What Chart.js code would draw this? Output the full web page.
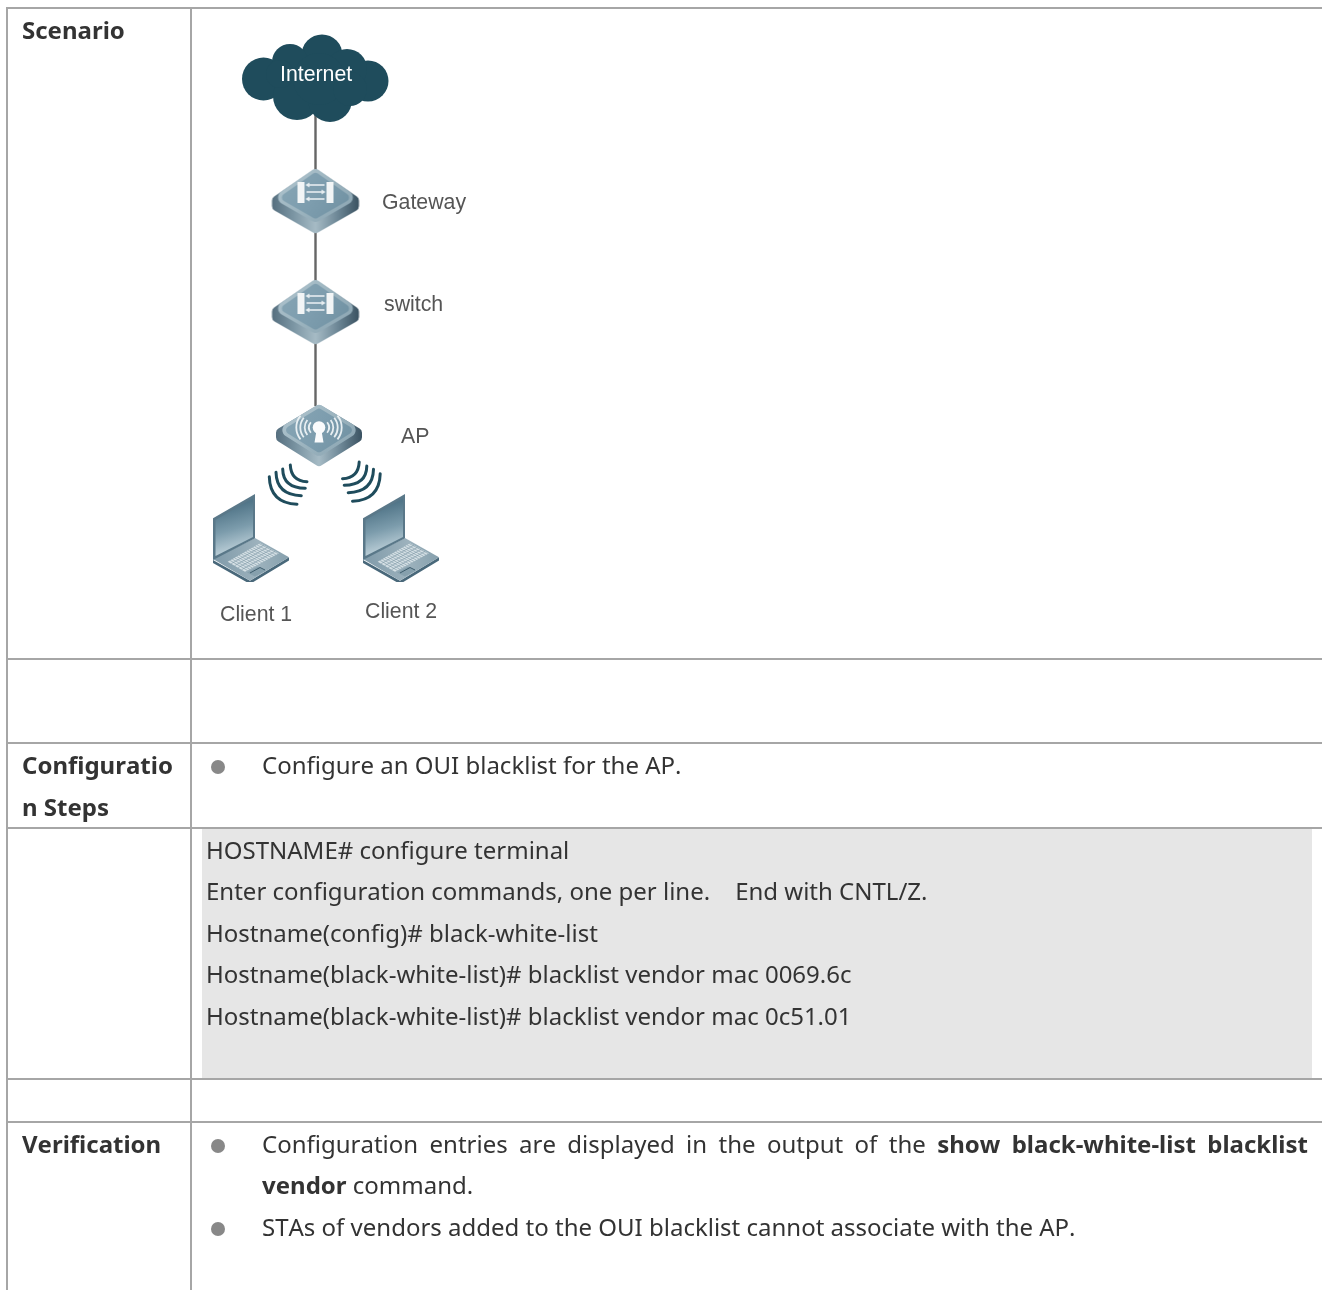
<!DOCTYPE html>
<html><head><meta charset="utf-8">
<style>html,body{margin:0;padding:0;background:#fff;overflow:hidden}canvas{display:block}</style>
<script src="https://cdn.jsdelivr.net/npm/chart.js@4"></script>
</head><body>
<canvas id="c" width="1322" height="1290" style="width:1322px;height:1290px"></canvas>
<script>
// ---- table structure
const rowEdges = [8, 659, 743, 828, 1079, 1122];
const columnEdges = [7, 191];
const codeBlockTop = [[202, 829], [1312, 829]];
const codeBlockBottom = 1078;
const bulletPoints = [[218, 767], [218, 1146], [218, 1229]];
// ---- topology
const nodeNames = ['Internet', 'Gateway', 'switch', 'AP', 'Client 1', 'Client 2'];
const linkColumn = 315.5;
const linkSpans = [[115, 170], [231, 281], [342, 406]];
const switchNodes = [[315.5, 200], [315.5, 311]];
const cloudNodes = [[315, 79]];
const apNodes = [[319, 436]];
const laptopNodes = [[250, 537], [400, 537]];
const radioNodes = [[323, 484]];
// ---- text
const rowHeadings = ['Scenario', 'Configuratio', 'n Steps', 'Verification'];
const stepLines = ['Configure an OUI blacklist for the AP.'];
const codeLines = ['HOSTNAME# configure terminal',
  'Enter configuration commands, one per line.    End with CNTL/Z.',
  'Hostname(config)# black-white-list',
  'Hostname(black-white-list)# blacklist vendor mac 0069.6c',
  'Hostname(black-white-list)# blacklist vendor mac 0c51.01'];
const verifyLead = 'Configuration entries are displayed in the output of the';
const verifyBold = 'show black-white-list blacklist';
const verifyBold2 = 'vendor';
const verifyTail = ' command.';
const verifyLast = 'STAs of vendors added to the OUI blacklist cannot associate with the AP.';

function mk(w, h, draw) {
  const c = document.createElement('canvas'); c.width = w; c.height = h;
  const g = c.getContext('2d'); g.filter = 'blur(0.5px)'; draw(g); return c;
}
function roundPoly(g, pts, r) {
  g.beginPath();
  const n = pts.length;
  const s = [(pts[n - 1][0] + pts[0][0]) / 2, (pts[n - 1][1] + pts[0][1]) / 2];
  g.moveTo(s[0], s[1]);
  for (let i = 0; i < n; i++) { const a = pts[i], b = pts[(i + 1) % n]; g.arcTo(a[0], a[1], b[0], b[1], r); }
  g.closePath();
}
function lin(g, x0, y0, x1, y1, stops) {
  const l = g.createLinearGradient(x0, y0, x1, y1);
  stops.forEach(s => l.addColorStop(s[0], s[1])); return l;
}
function drawBox(g, cx, topY, hw, midY, botFace, lift) {
  const L = cx - hw, R = cx + hw;
  g.fillStyle = lin(g, L, 0, R, 0, [[0, '#566f7f'], [0.25, '#7c96a4'], [0.5, '#a6bbc5'], [0.75, '#6e8897'], [1, '#3a5261']]);
  roundPoly(g, [[cx, topY], [R, midY], [R, midY + lift], [cx, botFace + lift], [L, midY + lift], [L, midY]], 5);
  g.fill();
  roundPoly(g, [[cx, topY], [R, midY], [cx, botFace], [L, midY]], 7);
  g.fillStyle = lin(g, cx - 25, topY, cx + 25, botFace, [[0, '#aec3cd'], [0.5, '#9cb4bf'], [1, '#8ca6b3']]);
  g.fill();
  const i = 4;
  roundPoly(g, [[cx, topY + i], [R - i * 1.6, midY], [cx, botFace - i], [L + i * 1.6, midY]], 4);
  g.fillStyle = lin(g, L, topY, R, botFace, [[0, '#8aa8b7'], [0.5, '#7d9dae'], [1, '#6c8d9e']]);
  g.fill();
}
const switchIcon = mk(100, 80, g => {
  const cx = 50;
  drawBox(g, cx, 8, 43.5, 38, 63, 11);
  g.fillStyle = '#f2f5f6';
  g.fillRect(cx - 18, 22, 7, 21); g.fillRect(cx + 11, 22, 7, 21);
  g.strokeStyle = '#e6edf0'; g.lineWidth = 1.6;
  [[25, -1], [32, 1], [39, -1]].forEach(a => {
    const y = a[0], d = a[1];
    g.beginPath(); g.moveTo(cx - 9, y); g.lineTo(cx + 9, y); g.stroke();
    g.beginPath(); g.moveTo(cx + d * 6, y - 2.5); g.lineTo(cx + d * 10, y); g.lineTo(cx + d * 6, y + 2.5); g.closePath();
    g.fillStyle = '#e6edf0'; g.fill();
  });
});
const apIcon = mk(100, 80, g => {
  const cx = 50;
  drawBox(g, cx, 8, 43, 34, 61, 10);
  g.strokeStyle = '#e8eff2'; g.lineWidth = 1.8;
  const ky = 31.5;
  [10, 14.3, 18.7, 22.7].forEach(r => {
    [Math.PI, 0].forEach(a => {
      g.beginPath(); g.ellipse(cx, ky, r, r * 0.9, 0, a - 0.62, a + 0.62); g.stroke();
    });
  });
  g.fillStyle = '#fafbfc';
  g.beginPath(); g.arc(cx, ky, 6.3, 0, 7); g.fill();
  g.beginPath(); g.moveTo(cx - 2.5, ky + 3); g.lineTo(cx + 2.5, ky + 3); g.lineTo(cx + 4.5, ky + 15); g.lineTo(cx - 4.5, ky + 15); g.closePath(); g.fill();
});
const cloudIcon = mk(160, 100, g => {
  // local origin = (235, 29) on the page
  g.fillStyle = '#1f4c5c';
  const blobs = [[28.5, 50, 21.5], [133, 52, 20.5], [87, 26, 20.5], [55, 33, 18], [112, 40, 20], [62, 67, 24], [95, 71, 22], [84, 50, 26], [115, 60, 17], [45, 45, 14]];
  blobs.forEach(b => { g.beginPath(); g.arc(b[0], b[1], b[2], 0, 7); g.fill(); });
});
const laptopIcon = mk(80, 90, g => {
  // local origin = (210, 492) on the page
  const P = a => a.forEach((p, i) => i ? g.lineTo(p[0], p[1]) : (g.beginPath(), g.moveTo(p[0], p[1])));
  P([[3, 68], [40, 88.7], [79, 65.3], [79, 68.5], [40, 92], [3, 71]]); g.closePath(); g.fillStyle = '#49687a'; g.fill();
  P([[3, 67], [45, 46], [79, 65.3], [40, 88.7]]); g.closePath();
  g.fillStyle = lin(g, 3, 0, 79, 0, [[0, '#7f9aa9'], [0.6, '#9db2bd'], [1, '#86a0ad']]); g.fill();
  P([[3, 26.3], [45, 2], [45, 46.3], [3, 68]]); g.closePath(); g.fillStyle = '#5a7889'; g.fill();
  P([[5.5, 28], [43, 6], [43, 45], [5.5, 64]]); g.closePath();
  g.fillStyle = lin(g, 18, 16, 30, 58, [[0, '#527689'], [0.5, '#7c9cac'], [1, '#bccfd8']]); g.fill();
  P([[17.7, 69.7], [50, 51.3], [69, 61.3], [35, 79.7]]); g.closePath(); g.fillStyle = '#d5e0e5'; g.fill();
  g.strokeStyle = 'rgba(120,148,162,.8)'; g.lineWidth = 0.7;
  for (let t = 0.2; t < 1; t += 0.2) {
    g.beginPath(); g.moveTo(17.7 + 17.3 * t, 69.7 + 10 * t); g.lineTo(50 + 19 * t, 51.3 + 10 * t); g.stroke();
  }
  for (let t = 0.07; t < 1; t += 0.07) {
    g.beginPath(); g.moveTo(17.7 + 32.3 * t, 69.7 - 18.4 * t); g.lineTo(35 + 34 * t, 79.7 - 18.4 * t); g.stroke();
  }
  P([[37, 80.5], [48, 74.5], [56, 78.5], [45, 84.5]]); g.closePath(); g.fillStyle = '#86a0ad'; g.fill();
  g.strokeStyle = '#3f5d6e'; g.lineWidth = 1; g.beginPath(); g.moveTo(40, 81); g.lineTo(50, 75.5); g.lineTo(55, 78); g.stroke();
});
const radioIcon = mk(130, 60, g => {
  // local origin = (258, 454) on the page
  g.strokeStyle = '#1f4c5c'; g.lineWidth = 3; g.lineCap = 'round';
  const groupL = [[32.3, 11, 33, 27, 49, 27.7], [24.7, 15, 25, 34, 47.3, 34.3], [18, 18.3, 18.5, 41, 43.3, 41.7], [11.3, 22.7, 12, 49, 39, 50.3]];
  groupL.forEach(a => {
    g.beginPath(); g.moveTo(a[0], a[1]); g.quadraticCurveTo(a[2], a[3], a[4], a[5]); g.stroke();
    const m = x => 133.5 - x;
    g.beginPath(); g.moveTo(m(a[0]), a[1] - 3); g.quadraticCurveTo(m(a[2]), a[3] - 3, m(a[4]), a[5] - 3); g.stroke();
  });
});

const textLayer = {
  id: 'textLayer',
  afterDatasetsDraw(chart) {
    const g = chart.ctx, sx = chart.scales.x, sy = chart.scales.y;
    const put = (t, x, y) => g.fillText(t, sx.getPixelForValue(x), sy.getPixelForValue(y));
    g.save(); g.textBaseline = 'alphabetic'; g.textAlign = 'left'; g.fontKerning = 'none';
    const reg = '24px "Noto Sans"', bold = 'bold 24px "Noto Sans"';
    g.fillStyle = '#333333'; g.font = bold;
    put(rowHeadings[0], 22, 39); put(rowHeadings[1], 22, 774); put(rowHeadings[2], 22, 816); put(rowHeadings[3], 22, 1153);
    put(verifyBold2, 262, 1194);
    const v2 = g.measureText(verifyBold2).width;
    g.font = reg;
    put(stepLines[0], 262, 774);
    const ys = [859, 900, 942, 983, 1025];
    codeLines.forEach((t, i) => put(t, 206, ys[i]));
    put(verifyTail, 262 + v2, 1194);
    put(verifyLast, 262, 1236);
    // justified line, word by word
    const words = verifyLead.split(' ').map(w => [w, reg]).concat(verifyBold.split(' ').map(w => [w, bold]));
    let total = 0;
    words.forEach(w => { g.font = w[1]; total += g.measureText(w[0]).width; });
    const gap = (1308 - 262 - total) / (words.length - 1);
    let x = 262;
    words.forEach(w => { g.font = w[1]; put(w[0], x, 1153); x += g.measureText(w[0]).width + gap; });
    // diagram labels
    g.fontKerning = 'normal';
    g.font = '21.3px "Liberation Sans"'; g.fillStyle = '#ffffff';
    put(nodeNames[0], 280, 81);
    g.fillStyle = '#555555';
    put(nodeNames[1], 382, 209); put(nodeNames[2], 384, 311); put(nodeNames[3], 401, 443);
    put(nodeNames[4], 220, 621); put(nodeNames[5], 365, 618);
    g.restore();
  }
};

const toXY = a => ({ x: a[0], y: a[1] });
const rule = pts => ({ data: pts, showLine: true, borderColor: '#a6a6a6', borderWidth: 2, pointRadius: 0, fill: false, order: 5, tension: 0 });
const hRules = rowEdges.map(y => rule([{ x: 6, y }, { x: 1322, y }]));
const vRules = columnEdges.map(x => rule([{ x, y: 7 }, { x, y: 1290 }]));
const links = linkSpans.map(s => ({ data: [{ x: linkColumn, y: s[0] }, { x: linkColumn, y: s[1] }], showLine: true, borderColor: '#666666', borderWidth: 2.4, pointRadius: 0, order: 4 }));
const icon = (pts, img) => ({ data: pts.map(toXY), pointStyle: img, pointRadius: 1, showLine: false, order: 2 });

new Chart(document.getElementById('c'), {
  type: 'scatter',
  data: { datasets: [
    { data: codeBlockTop.map(toXY), showLine: true, borderWidth: 0, borderColor: 'rgba(0,0,0,0)', backgroundColor: '#e6e6e6', fill: { value: codeBlockBottom }, pointRadius: 0, order: 6 },
    ...hRules, ...vRules, ...links,
    { data: bulletPoints.map(toXY), pointRadius: 7, backgroundColor: '#888888', borderWidth: 0, showLine: false, order: 3 },
    icon(cloudNodes, cloudIcon), icon(switchNodes, switchIcon), icon(apNodes, apIcon),
    icon(laptopNodes, laptopIcon), icon(radioNodes, radioIcon)
  ] },
  options: {
    responsive: false, animation: false, events: [],
    layout: { padding: 0, autoPadding: false },
    plugins: { legend: { display: false }, tooltip: { enabled: false }, title: { display: false } },
    scales: {
      x: { type: 'linear', min: 0, max: 1322, display: false },
      y: { type: 'linear', min: 0, max: 1290, reverse: true, display: false }
    }
  },
  plugins: [textLayer]
});
</script>
</body></html>
